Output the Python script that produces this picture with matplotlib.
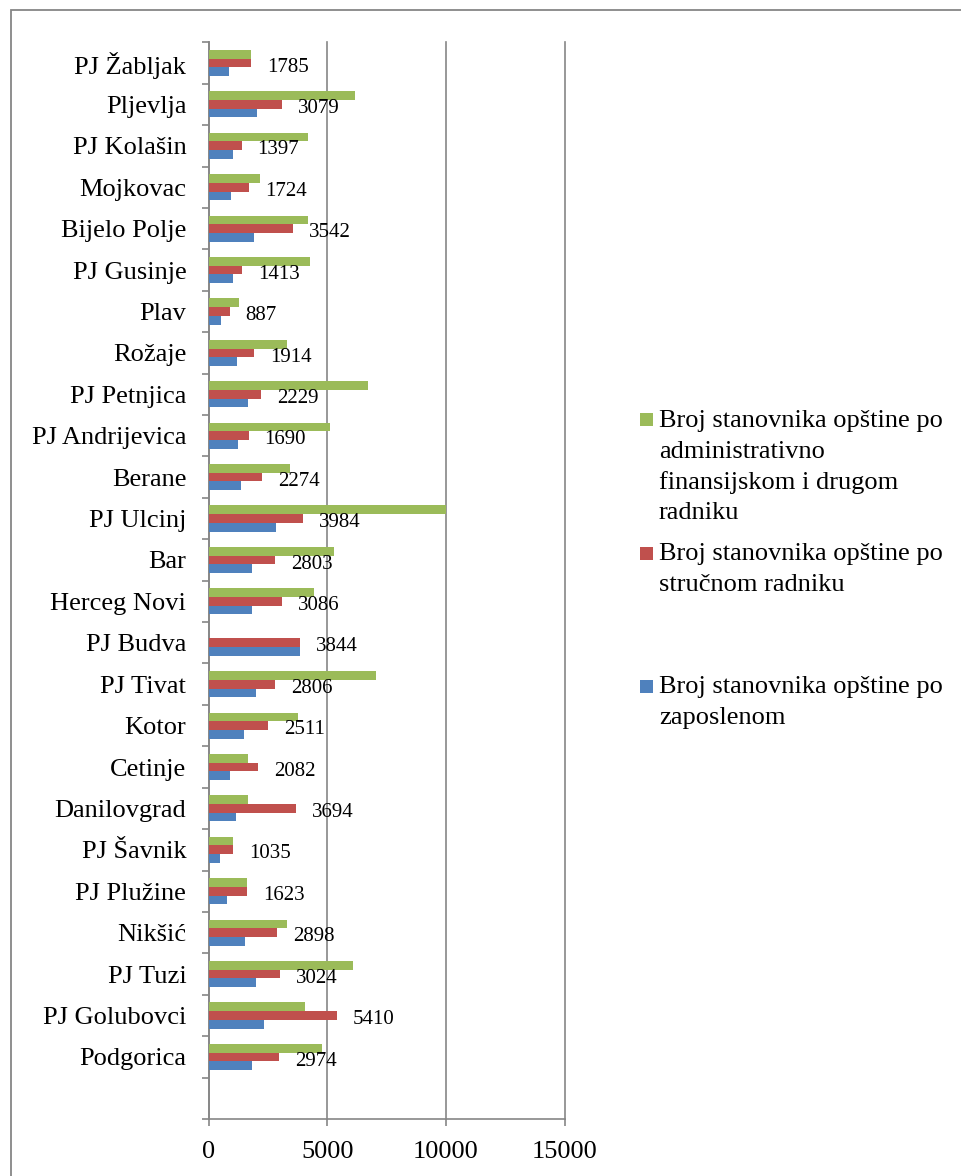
import matplotlib
matplotlib.use('Agg')
import matplotlib.pyplot as plt
import numpy as np
from matplotlib.patches import Rectangle

# Categories from top to bottom (last slot is empty in the original chart)
categories = ["PJ Žabljak", "Pljevlja", "PJ Kolašin", "Mojkovac", "Bijelo Polje",
              "PJ Gusinje", "Plav", "Rožaje", "PJ Petnjica", "PJ Andrijevica",
              "Berane", "PJ Ulcinj", "Bar", "Herceg Novi", "PJ Budva", "PJ Tivat",
              "Kotor", "Cetinje", "Danilovgrad", "PJ Šavnik", "PJ Plužine",
              "Nikšić", "PJ Tuzi", "PJ Golubovci", "Podgorica", ""]

po_zaposlenom = [880, 2045, 1037, 937, 1903, 1051, 511, 1207, 1676, 1264,
                 1349, 2854, 1818, 1818, 3844, 2016, 1505, 909, 1150, 497,
                 795, 1534, 2016, 2329, 1832, np.nan]

po_strucnom = [1785, 3079, 1397, 1724, 3542, 1413, 887, 1914, 2229, 1690,
               2274, 3984, 2803, 3086, 3844, 2806, 2511, 2082, 3694, 1035,
               1623, 2898, 3024, 5410, 2974, np.nan]

po_admin = [1785, 6190, 4200, 2160, 4200, 4260, 1265, 3295, 6700, 5100,
            3420, 10000, 5280, 4430, np.nan, 7055, 3775, 1660, 1675, 1035,
            1623, 3310, 6080, 4075, 4800, np.nan]

legend_labels = [
    "Broj stanovnika opštine po\nadministrativno\nfinansijskom i drugom\nradniku",
    "Broj stanovnika opštine po\nstručnom radniku",
    "Broj stanovnika opštine po\nzaposlenom",
]

x_ticks = [0, 5000, 10000, 15000]

C_GREEN = "#9BBB59"
C_RED = "#C0504D"
C_BLUE = "#4F81BD"
C_GRID = "#868686"

plt.rcParams['font.family'] = ['Liberation Serif', 'DejaVu Serif']

W, H = 961, 1176
fig = plt.figure(figsize=(W / 100, H / 100), dpi=100)
fig.patch.set_facecolor('white')

ax_left, ax_right, ax_top, ax_bottom = 208.5, 564.5, 42.3, 1119.0
ax = fig.add_axes([ax_left / W, 1 - ax_bottom / H,
                   (ax_right - ax_left) / W, (ax_bottom - ax_top) / H])

n = len(categories)
y = np.arange(n)
bh = 0.21
ax.barh(y - bh, po_admin, height=bh, color=C_GREEN, edgecolor='none', zorder=3)
ax.barh(y, po_strucnom, height=bh, color=C_RED, edgecolor='none', zorder=3)
ax.barh(y + bh, po_zaposlenom, height=bh, color=C_BLUE, edgecolor='none', zorder=3)

ax.set_ylim(n - 0.5, -0.5)
ax.set_xlim(0, 15000)

# data labels on the red series
for yi, v in zip(y, po_strucnom):
    if not np.isnan(v):
        ax.annotate(f"{int(v)}", xy=(v, yi), xytext=(11.5, -3),
                    textcoords='offset points', ha='left', va='center',
                    fontsize=15, color='black', zorder=4)

# axes styling
for s in ['top', 'right']:
    ax.spines[s].set_visible(False)
for s in ['left', 'bottom']:
    ax.spines[s].set_color(C_GRID)
    ax.spines[s].set_linewidth(1.2)

ax.set_xticks(x_ticks)
ax.set_xticklabels([str(t) for t in x_ticks])
ax.tick_params(axis='x', direction='out', length=5, width=1.2, color=C_GRID,
               labelsize=19, pad=11)

ax.set_yticks(y)
ax.set_yticklabels(categories)
ax.set_yticks(np.arange(-0.5, n, 1.0), minor=True)
ax.tick_params(axis='y', which='major', length=0, labelsize=19, pad=16)
ax.tick_params(axis='y', which='minor', direction='out', length=5, width=1.2,
               color=C_GRID)
for lbl in ax.get_yticklabels():
    lbl.set_y(lbl.get_position()[1])

ax.grid(axis='x', color=C_GRID, linewidth=1.2, zorder=0)
ax.grid(axis='y', visible=False)
for gl in ax.get_xgridlines():
    gl.set_clip_on(False)
ax.set_axisbelow(True)

# outer chart border (left and top visible; others run off the image)
fig.patches.append(Rectangle((11 / W, -0.1), 2, 1 - 10 / H + 0.1,
                             transform=fig.transFigure, fill=False,
                             edgecolor=C_GRID, linewidth=1.3))

# legend drawn manually
leg_colors = [C_GREEN, C_RED, C_BLUE]
first_baselines = [427, 560, 693]
line_step = 30.8
for lab, col, b0 in zip(legend_labels, leg_colors, first_baselines):
    cy = b0 - 7
    fig.patches.append(Rectangle((639.5 / W, 1 - (cy + 6.5) / H), 13 / W, 13 / H,
                                 transform=fig.transFigure, facecolor=col,
                                 edgecolor='none'))
    for i, line in enumerate(lab.split("\n")):
        fig.text(659 / W, 1 - (b0 + i * line_step) / H, line, ha='left',
                 va='baseline', fontsize=19, color='black')

fig.savefig('out.png', dpi=100, facecolor='white')
